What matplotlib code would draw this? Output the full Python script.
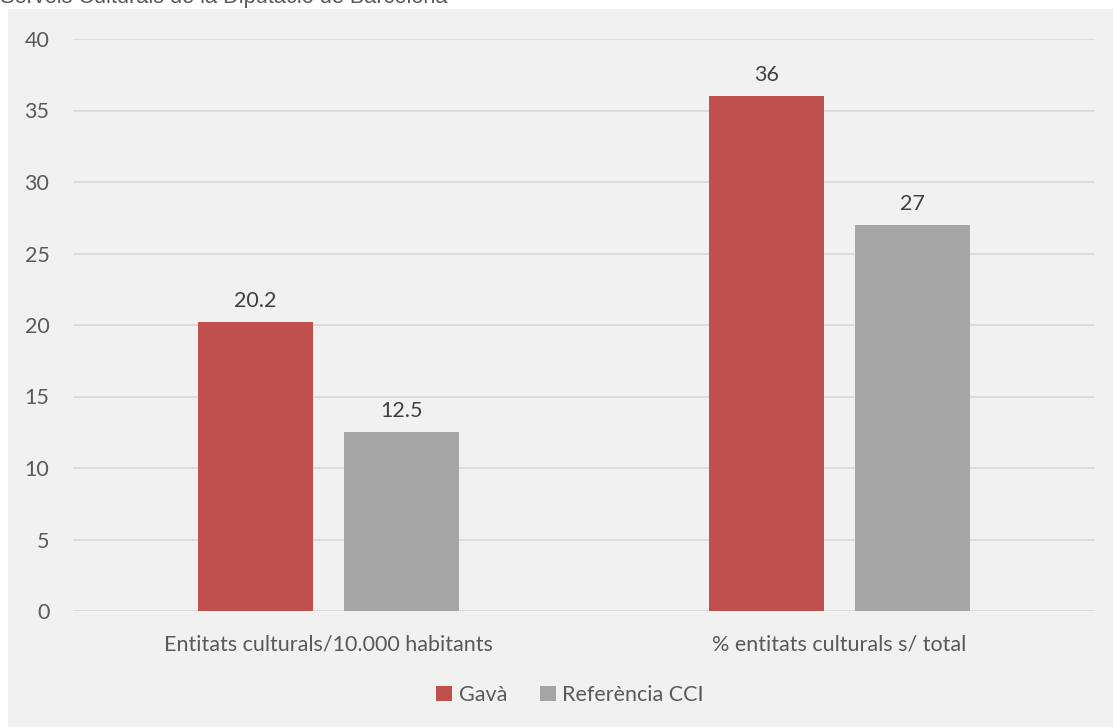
import numpy as np
from matplotlib import pyplot as plt
from matplotlib.patches import Rectangle

plt.rcParams['font.family'] = ['Lato', 'DejaVu Sans']

# data
categories = ["Entitats culturals/10.000 habitants", "% entitats culturals s/ total"]
series_names = ["Gavà", "Referència CCI"]
gava = [20.2, 36]
referencia = [12.5, 27]
value_labels_gava = ["20.2", "36"]
value_labels_ref = ["12.5", "27"]
yticks = [0, 5, 10, 15, 20, 25, 30, 35, 40]

red = "#C0504D"
grey = "#A5A5A5"
bg = "#F1F1F1"
txt = "#595959"
fs = 15.5

fig = plt.figure(figsize=(11.13, 7.27), dpi=100)
fig.patch.set_facecolor("white")
# grey chart panel
fig.patches.append(Rectangle((8/1113, 0), 1 - 8/1113, 1 - 9/727,
                             transform=fig.transFigure, facecolor=bg,
                             edgecolor="none", zorder=-1))
fig.text(0, 1 - 3/727, "Serveis Culturals de la Diputació de Barcelona",
         family="Liberation Sans", fontsize=15.7, color=txt, va="baseline", ha="left")

ax = fig.add_axes([73/1113, 1 - 611/727, (1095-73)/1113, (611-39)/727])
ax.set_facecolor("none")

x = np.arange(len(categories))
w = 0.224
off = 0.143
b1 = ax.bar(x - off, gava, w, color=red, zorder=3)
b2 = ax.bar(x + off, referencia, w, color=grey, zorder=3)

for rect, lab in zip(b1, value_labels_gava):
    ax.annotate(lab, (rect.get_x() + rect.get_width()/2, rect.get_height()),
                xytext=(0, 8), textcoords="offset points", ha="center",
                va="bottom", fontsize=fs, color="#404040")
for rect, lab in zip(b2, value_labels_ref):
    ax.annotate(lab, (rect.get_x() + rect.get_width()/2, rect.get_height()),
                xytext=(0, 8), textcoords="offset points", ha="center",
                va="bottom", fontsize=fs, color="#404040")

ax.set_xlim(-0.5, 1.5)
ax.set_ylim(0, 40)
ax.set_yticks(yticks)
ax.set_xticks(x)
ax.set_xticklabels(categories)
ax.yaxis.grid(True, color="#D9D9D9", linewidth=1.3, zorder=0)
ax.set_axisbelow(True)
for s in ax.spines.values():
    s.set_visible(False)
ax.tick_params(axis="both", length=0, labelsize=fs, labelcolor=txt)
ax.tick_params(axis="x", pad=17)
ax.tick_params(axis="y", pad=17)

leg = fig.legend([b1, b2], series_names, loc="center", ncol=2,
                 bbox_to_anchor=(570/1113, 1 - 695/727), frameon=False,
                 fontsize=fs, handlelength=0.75, handleheight=0.75,
                 handletextpad=0.3, columnspacing=1.5)
for t in leg.get_texts():
    t.set_color(txt)

fig.savefig("out.png", dpi=100, facecolor=fig.get_facecolor())
